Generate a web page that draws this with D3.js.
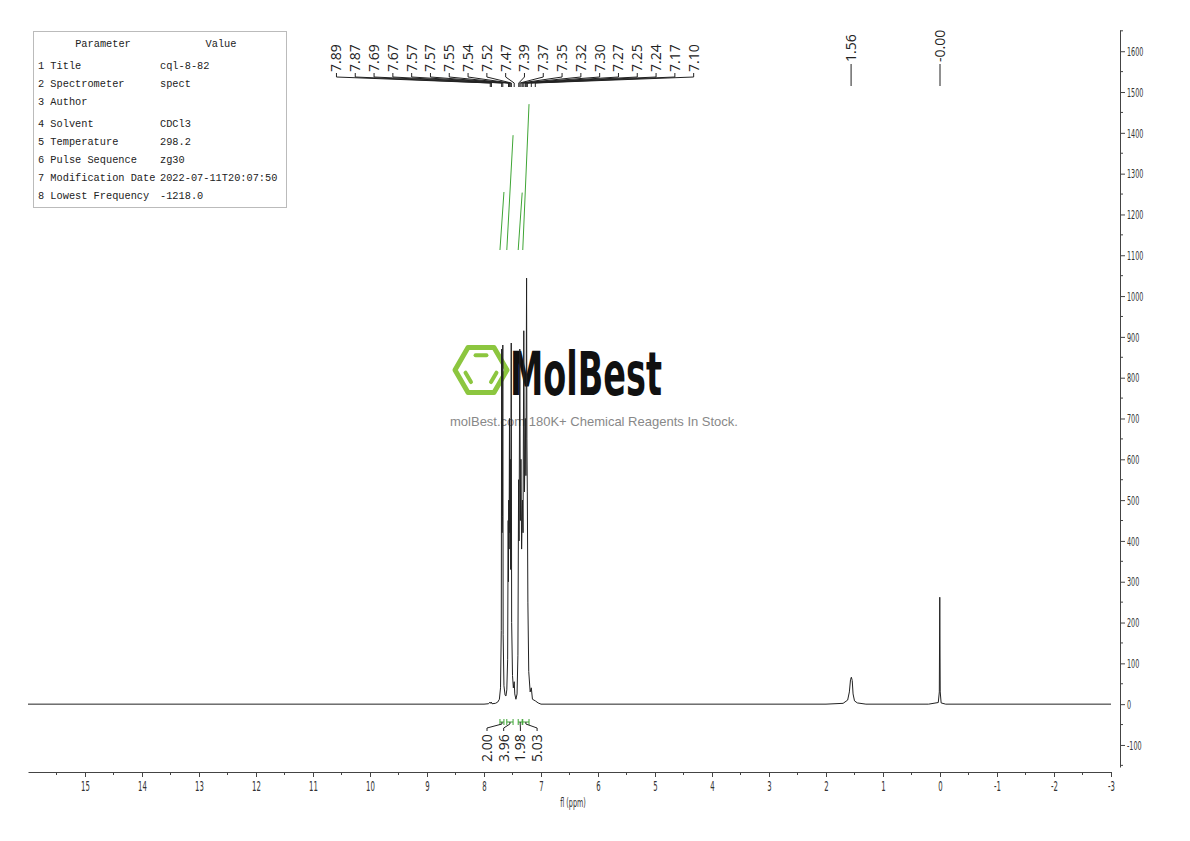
<!DOCTYPE html>
<html lang="en">
<head>
<meta charset="utf-8">
<title>1H NMR - cql-8-82</title>
<script src="https://d3js.org/d3.v7.min.js"></script>
<style>
  body { margin: 0; background: #fff; }
  svg { display: block; }
  .axis path, .axis line { stroke: #444; }
  .axis text { font-family: "DejaVu Sans Condensed", "DejaVu Sans", sans-serif; fill: #333; }
  .param text { font-family: "Liberation Mono", monospace; font-size: 10.3px; fill: #222; }
  .plabel { font-family: "Open Sans", sans-serif; font-size: 14px; fill: #222; }
</style>
</head>
<body>
<div id="chart"></div>
<script>
// ---- data ----
var paramNames = ["Title", "Spectrometer", "Author", "Solvent", "Temperature", "Pulse Sequence", "Modification Date", "Lowest Frequency"];
var paramValues = ["cql-8-82", "spect", "", "CDCl3", "298.2", "zg30", "2022-07-11T20:07:50", "-1218.0"];

// aromatic peak labels (ppm)
var peakLabels = [7.89, 7.87, 7.69, 7.67, 7.57, 7.57, 7.55, 7.54, 7.52, 7.47,
                  7.39, 7.37, 7.35, 7.32, 7.30, 7.27, 7.25, 7.24, 7.17, 7.10];
var singleLabels = [1.56, 0.00];

// integrals: [from ppm, to ppm, value]
var integralFrom = [7.72, 7.60, 7.40, 7.32];
var integralTo = [7.65, 7.49, 7.33, 7.21];
var integralValue = [2.00, 3.96, 1.98, 5.03];

// spectrum trace [ppm, intensity]
var spectrum = [
  [16.0, 0], [12.0, 0], [9.0, 0], [8.00, 0], [7.92, 1], [7.895, 5], [7.883, 2], [7.872, 5], [7.86, 1],
  [7.80, 2], [7.76, 5], [7.73, 12], [7.71, 40], [7.697, 180], [7.69, 870], [7.683, 420], [7.676, 460],
  [7.67, 880], [7.664, 170], [7.65, 45], [7.63, 22], [7.615, 20], [7.60, 35], [7.585, 110], [7.576, 450],
  [7.571, 300], [7.566, 500], [7.56, 380], [7.553, 700], [7.547, 420], [7.54, 600], [7.532, 330],
  [7.522, 885], [7.515, 200], [7.50, 70], [7.485, 40], [7.47, 55], [7.46, 25], [7.44, 12], [7.42, 25],
  [7.405, 120], [7.393, 550], [7.385, 400], [7.372, 870], [7.362, 450], [7.352, 600], [7.34, 380],
  [7.325, 500], [7.315, 420], [7.302, 915], [7.29, 520], [7.275, 700], [7.265, 560], [7.253, 1044],
  [7.247, 650], [7.24, 520], [7.23, 250], [7.215, 80], [7.19, 30], [7.17, 40], [7.15, 12], [7.10, 8],
  [7.05, 3], [7.0, 0], [6.0, 0], [2.0, 0], [1.70, 2], [1.62, 10], [1.59, 30], [1.57, 60], [1.555, 66],
  [1.54, 58], [1.525, 25], [1.50, 8], [1.45, 3], [1.3, 0], [0.2, 0], [0.03, 4], [0.012, 30],
  [0.004, 262], [-0.004, 30], [-0.02, 3], [-0.1, 0], [-3.0, 0]
];

var xTicks = d3.range(15, -3.5, -1);
var yTicks = d3.range(-100, 1700, 100);

// ---- layout ----
var width = 1190, height = 841;
var svg = d3.select("#chart").append("svg")
    .attr("width", width)
    .attr("height", height);

var x = d3.scaleLinear().domain([16, -3]).range([28, 1111]);
var y = d3.scaleLinear().domain([-154, 1652]).range([767, 30]);
var sq = 0.55; // horizontal squeeze for the narrow axis font

// ---- watermark (under the trace) ----
var logo = svg.append("g").attr("class", "logo");
var hx = 481, hy = 370, hr = 26;
var hexPts = d3.range(6).map(function(i) {
  var a = Math.PI / 3 * i;
  return [hx + hr * Math.cos(a), hy + hr * Math.sin(a)];
});
logo.append("polygon")
    .attr("points", hexPts.map(function(p) { return p.join(","); }).join(" "))
    .attr("fill", "none")
    .attr("stroke", "#8cc63f")
    .attr("stroke-width", 5)
    .attr("stroke-linejoin", "round");
// inner double bonds
var ir = 17;
[[4, 5], [2, 3], [0, 1]].forEach(function(e) {
  var a0 = Math.PI / 3 * e[0], a1 = Math.PI / 3 * e[1];
  var p0 = [hx + ir * Math.cos(a0), hy + ir * Math.sin(a0)];
  var p1 = [hx + ir * Math.cos(a1), hy + ir * Math.sin(a1)];
  var s0 = [p0[0] + (p1[0] - p0[0]) * 0.18, p0[1] + (p1[1] - p0[1]) * 0.18];
  var s1 = [p0[0] + (p1[0] - p0[0]) * 0.82, p0[1] + (p1[1] - p0[1]) * 0.82];
  logo.append("line")
      .attr("x1", s0[0]).attr("y1", s0[1]).attr("x2", s1[0]).attr("y2", s1[1])
      .attr("stroke", "#8cc63f").attr("stroke-width", 4).attr("stroke-linecap", "round");
});
logo.append("text")
    .attr("x", 510).attr("y", 395)
    .attr("textLength", 152).attr("lengthAdjust", "spacingAndGlyphs")
    .style("font-family", "'DejaVu Sans Condensed', sans-serif")
    .style("font-weight", "bold")
    .style("font-size", "60px")
    .style("fill", "#111")
    .text("MolBest");
logo.append("text")
    .attr("x", 594).attr("y", 426)
    .attr("text-anchor", "middle")
    .style("font-family", "'Liberation Sans', Arial, sans-serif")
    .style("font-size", "13px")
    .style("fill", "#888")
    .text("molBest.com 180K+ Chemical Reagents In Stock.");

// ---- parameter table ----
var param = svg.append("g").attr("class", "param");
param.append("rect")
    .attr("x", 33.5).attr("y", 31.5).attr("width", 253).attr("height", 176)
    .attr("fill", "none").attr("stroke", "#bbb");
param.append("text").attr("x", 103).attr("y", 47).attr("text-anchor", "middle").text("Parameter");
param.append("text").attr("x", 221).attr("y", 47).attr("text-anchor", "middle").text("Value");
var rowY = [69, 87, 105, 127, 145, 163, 181, 199];
paramNames.forEach(function(n, i) {
  param.append("text").attr("x", 38).attr("y", rowY[i]).text((i + 1) + " " + n);
  param.append("text").attr("x", 160).attr("y", rowY[i]).text(paramValues[i]);
});

// ---- spectrum ----
var line = d3.line()
    .x(function(d) { return x(d[0]); })
    .y(function(d) { return y(d[1]); });

svg.append("path")
    .datum(spectrum)
    .attr("fill", "none")
    .attr("stroke", "#222")
    .attr("stroke-width", 1)
    .attr("d", line);

// ---- integral curves ----
var intBase = 250, intScale = 29;
var integ = svg.append("g").attr("class", "integrals");
integralValue.forEach(function(v, i) {
  integ.append("line")
      .attr("x1", x(integralFrom[i])).attr("y1", intBase)
      .attr("x2", x(integralTo[i])).attr("y2", intBase - v * intScale)
      .attr("stroke", "#3fa535").attr("stroke-width", 1);
  // brackets under baseline
  var xa = x(integralFrom[i]), xb = x(integralTo[i]);
  integ.append("path")
      .attr("d", "M" + xa + ",719V725M" + xa + ",722H" + xb + "M" + xb + ",719V725")
      .attr("fill", "none").attr("stroke", "#3fa535").attr("stroke-width", 1);
});

// integral value labels
var intLabelX = d3.range(4).map(function(i) { return 487 + i * 16.7; });
integralValue.forEach(function(v, i) {
  var mx = (x(integralFrom[i]) + x(integralTo[i])) / 2;
  svg.append("path")
      .attr("d", "M" + intLabelX[i] + ",731V728L" + mx + ",724V722")
      .attr("fill", "none").attr("stroke", "#222").attr("stroke-width", 1);
  svg.append("text")
      .attr("class", "plabel")
      .attr("transform", "translate(" + (intLabelX[i] + 5) + ",762) rotate(-90)")
      .text(v.toFixed(2));
});

// ---- peak labels ----
var meanX = d3.mean(peakLabels, function(p) { return x(p); });
var spacing = 18.8;
var labelX = peakLabels.map(function(p, i) { return meanX + (i - (peakLabels.length - 1) / 2) * spacing; });
var pl = svg.append("g").attr("class", "peaklabels");
peakLabels.forEach(function(p, i) {
  pl.append("text")
      .attr("class", "plabel")
      .attr("transform", "translate(" + (labelX[i] + 5) + ",72) rotate(-90)")
      .text(p.toFixed(2));
  pl.append("path")
      .attr("d", "M" + labelX[i] + ",73V77L" + x(p) + ",83V87")
      .attr("fill", "none").attr("stroke", "#222").attr("stroke-width", 1);
});
singleLabels.forEach(function(p) {
  var txt = p === 0 ? "-0.00" : p.toFixed(2);
  pl.append("text")
      .attr("class", "plabel")
      .attr("transform", "translate(" + (x(p) + 5) + ",62) rotate(-90)")
      .text(txt);
  pl.append("line")
      .attr("x1", x(p)).attr("x2", x(p)).attr("y1", 64).attr("y2", 86)
      .attr("stroke", "#222").attr("stroke-width", 1);
});

// ---- axes ----
var fmt = function(d) { return String(d); };

var xAxis = svg.append("g")
    .attr("class", "axis")
    .attr("transform", "translate(0,772)")
    .call(d3.axisBottom(x).tickValues(xTicks).tickSize(5).tickSizeOuter(0).tickFormat(fmt));
xAxis.selectAll(".tick text")
    .attr("y", 9)
    .attr("transform", "scale(" + sq + ",1)")
    .style("font-size", "14px");
xAxis.selectAll(".minor")
    .data(d3.range(15.5, -3, -1))
    .enter().append("line")
    .attr("x1", function(d) { return x(d); }).attr("x2", function(d) { return x(d); })
    .attr("y1", 0).attr("y2", 3)
    .attr("stroke", "#444");
svg.append("text")
    .attr("transform", "translate(573,807) scale(" + sq + ",1)")
    .attr("text-anchor", "middle")
    .style("font-family", "'DejaVu Sans Condensed', sans-serif")
    .style("font-size", "13px")
    .style("fill", "#333")
    .text("fl (ppm)");

var yAxis = svg.append("g")
    .attr("class", "axis")
    .attr("transform", "translate(1120,0)")
    .call(d3.axisRight(y).tickValues(yTicks).tickSize(5).tickSizeOuter(0).tickFormat(fmt));
yAxis.selectAll(".tick text")
    .attr("x", 7 / sq)
    .attr("transform", "scale(" + sq + ",1)")
    .style("font-size", "13px");
yAxis.selectAll(".minor")
    .data(d3.range(-150, 1700, 100))
    .enter().append("line")
    .attr("x1", 0).attr("x2", 3)
    .attr("y1", function(d) { return y(d); }).attr("y2", function(d) { return y(d); })
    .attr("stroke", "#444");
</script>
</body>
</html>
